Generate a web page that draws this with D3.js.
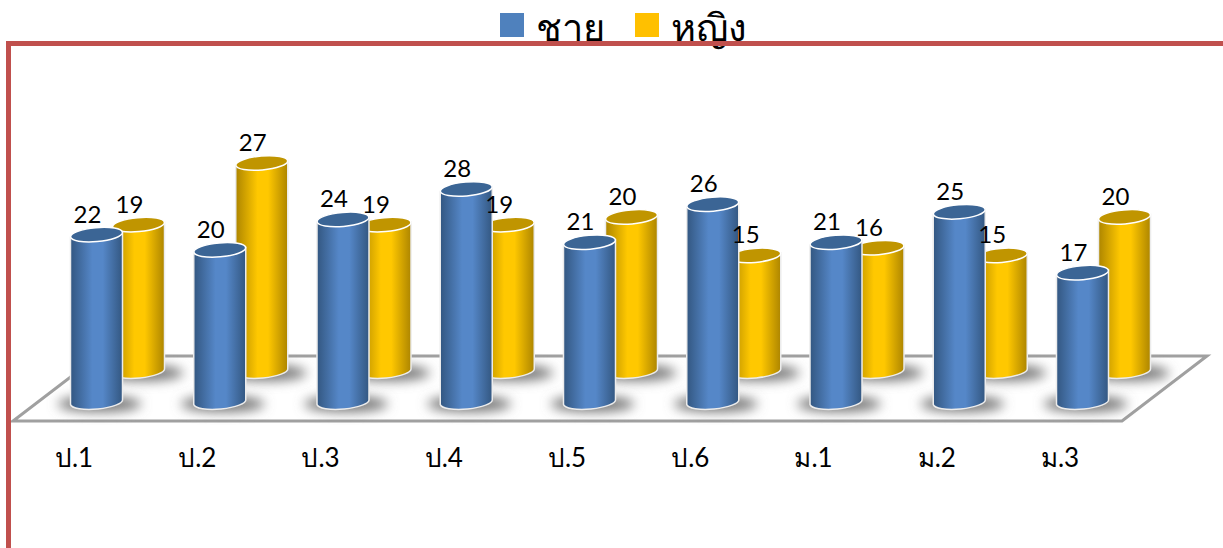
<!DOCTYPE html>
<html>
<head>
<meta charset="utf-8">
<script src="https://cdn.jsdelivr.net/npm/d3@7"></script>
<style>
  html, body { margin: 0; padding: 0; background: #fff; overflow: hidden; }
  text { font-family: Lato, "Noto Sans", sans-serif; fill: #000; }
</style>
</head>
<body>
<div id="vis"></div>
<script>
var width = 1223;
var height = 548;

var categories = ['ป.1', 'ป.2', 'ป.3', 'ป.4', 'ป.5', 'ป.6', 'ม.1', 'ม.2', 'ม.3'];
var seriesNames = ['ชาย', 'หญิง'];
var maleValues = [22, 20, 24, 28, 21, 26, 21, 25, 17];
var femaleValues = [19, 27, 19, 19, 20, 15, 16, 15, 20];

var RX = 26, RY = 7, TILT = -5, DROP = 2.5;

var xScale = d3.scalePoint().domain(categories).range([96.5, 1082.5]);
var yMale = d3.scaleLinear().domain([0, 28]).range([402, 189]);
var yFemale = d3.scaleLinear().domain([0, 27]).range([371, 163]);

var svg = d3.select('#vis').append('svg')
    .attr('width', width)
    .attr('height', height)
    .style('display', 'block');

var defs = svg.append('defs');

function bodyGradient(id, edge, mid) {
  var g = defs.append('linearGradient').attr('id', id);
  g.append('stop').attr('offset', '0%').attr('stop-color', edge);
  g.append('stop').attr('offset', '42%').attr('stop-color', mid);
  g.append('stop').attr('offset', '62%').attr('stop-color', mid);
  g.append('stop').attr('offset', '100%').attr('stop-color', edge);
}
bodyGradient('male-body', '#335781', '#5587c8');
bodyGradient('female-body', '#ad8500', '#ffc800');

defs.append('filter').attr('id', 'blur')
    .attr('x', '-30%').attr('y', '-80%').attr('width', '160%').attr('height', '260%')
  .append('feGaussianBlur').attr('stdDeviation', 6);

// floor
svg.append('polygon')
    .attr('points', '13,421 1122,421 1207,356 98,356')
    .attr('fill', '#fff')
    .attr('stroke', '#a0a0a0')
    .attr('stroke-width', 3);

function shadow(cx, baseY) {
  svg.append('ellipse')
      .attr('cx', cx + 3)
      .attr('cy', baseY + 2)
      .attr('rx', 42)
      .attr('ry', 8)
      .attr('fill', '#777')
      .attr('filter', 'url(#blur)');
}

function cylinder(cx, topY, baseY, bodyId, capColor) {
  var l = cx - RX, r = cx + RX;
  svg.append('path')
      .attr('d', 'M' + l + ',' + (topY + DROP) + 'L' + l + ',' + (baseY + DROP) +
        'A' + RX + ' ' + RY + ' ' + TILT + ' 0 0 ' + r + ',' + (baseY - DROP) +
        'L' + r + ',' + (topY - DROP) + 'Z')
      .attr('fill', 'url(#' + bodyId + ')')
      .attr('stroke', '#ececec')
      .attr('stroke-width', 1.5);
  svg.append('ellipse')
      .attr('transform', 'translate(' + cx + ',' + topY + ')rotate(' + TILT + ')')
      .attr('rx', RX)
      .attr('ry', RY)
      .attr('fill', capColor)
      .attr('stroke', '#fff')
      .attr('stroke-width', 1.5);
}

function valueLabel(cx, topY, v) {
  svg.append('text')
      .attr('x', cx - 9)
      .attr('y', topY - 12)
      .attr('text-anchor', 'middle')
      .attr('font-size', 24)
      .text(v);
}

// shadows sit on the floor under everything
categories.forEach(function(c, i) {
  shadow(xScale(c) + 42, yFemale(0));
  shadow(xScale(c), yMale(0));
});

// female row is behind, male row in front
categories.forEach(function(c, i) {
  cylinder(xScale(c) + 42, yFemale(femaleValues[i]), yFemale(0), 'female-body', '#c09500');
});
categories.forEach(function(c, i) {
  cylinder(xScale(c), yMale(maleValues[i]), yMale(0), 'male-body', '#3b6595');
});
categories.forEach(function(c, i) {
  valueLabel(xScale(c) + 42, yFemale(femaleValues[i]), femaleValues[i]);
  valueLabel(xScale(c), yMale(maleValues[i]), maleValues[i]);
});

// category labels
var xAxis = d3.axisBottom(xScale).tickSize(0).tickPadding(0);
var axisG = svg.append('g')
    .attr('transform', 'translate(-23, 449)')
    .call(xAxis);
axisG.select('.domain').remove();
axisG.selectAll('text')
    .attr('font-size', 26)
    .attr('font-family', null);

// legend
var legendX = [500, 635];
var legendColors = ['#4f81bd', '#ffc000'];
seriesNames.forEach(function(name, i) {
  svg.append('rect')
      .attr('x', legendX[i])
      .attr('y', 13)
      .attr('width', 24)
      .attr('height', 24)
      .attr('fill', legendColors[i]);
  svg.append('text')
      .attr('x', legendX[i] + 36)
      .attr('y', 41)
      .attr('font-size', 38)
      .text(name);
});

// outer border goes over the legend text
svg.append('rect')
    .attr('x', 8.5)
    .attr('y', 43.5)
    .attr('width', 1300)
    .attr('height', 600)
    .attr('fill', 'none')
    .attr('stroke', '#c0504d')
    .attr('stroke-width', 5);
</script>
</body>
</html>
